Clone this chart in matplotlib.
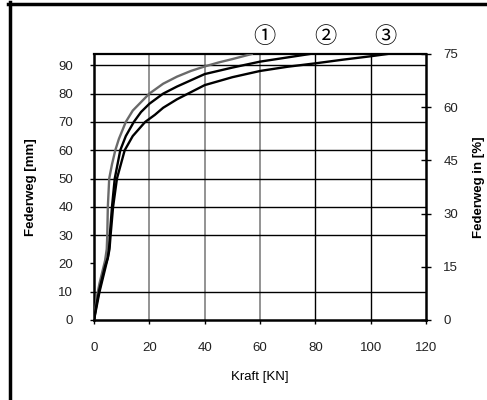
import matplotlib
matplotlib.use("Agg")
import matplotlib.pyplot as plt
from matplotlib.lines import Line2D

# ---- data ----
kraft_1 = [0, 1, 2, 3, 4, 4.6, 4.8, 5.0, 5.5, 6.5, 7.7, 9, 11.5, 14, 17, 20, 25, 30, 35, 40, 45, 50, 57]
weg_1 = [0, 8, 13, 17, 21, 25, 30, 40, 50, 55, 60, 64, 70, 74, 77, 80, 83.5, 86, 88, 89.6, 91, 92.2, 94]

kraft_2 = [0, 1, 2, 3, 4, 5, 5.5, 5.8, 6.5, 7.5, 9.5, 11.5, 14.4, 17, 20, 25, 30, 40, 50, 60, 70, 78]
weg_2 = [0, 6, 11, 15, 19, 22, 26, 31, 40, 50, 60, 65, 70, 73.5, 76.4, 80, 82.5, 86.9, 89.2, 91.3, 92.8, 94]

kraft_3 = [0, 1, 2, 3, 4, 5, 5.6, 6.0, 6.9, 8.3, 11.1, 14, 18.5, 22, 25, 30, 40, 50, 60, 70, 80, 90, 100, 106]
weg_3 = [0, 5, 10, 14, 18, 22, 25, 30, 40, 50, 60, 65, 70, 72.5, 75, 78, 83, 85.8, 88, 89.5, 90.7, 92, 93.2, 94]

curve_labels = ["①", "②", "③"]
curve_label_x = [61.5, 83.5, 105.3]

x_ticks = [0, 20, 40, 60, 80, 100, 120]
y_ticks = [0, 10, 20, 30, 40, 50, 60, 70, 80, 90]
y2_ticks = [0, 15, 30, 45, 60, 75]
hgrid_levels = [10, 30, 40, 50, 60, 70, 80, 90]
vgrid_grey = [20, 40, 60]
vgrid_black = [80, 100]

y_max_mm = 94
y_max_pct = 75

plt.rcParams['font.family'] = ['Liberation Sans', 'DejaVu Sans']

fig = plt.figure(figsize=(4.87, 4.0), dpi=100)
ax = fig.add_axes([94 / 487, 80 / 400, (426 - 94) / 487, (320 - 54) / 400])

for v in vgrid_grey:
    ax.axvline(v, color='#808080', lw=1.2, zorder=1)
for v in vgrid_black:
    ax.axvline(v, color='black', lw=1.0, zorder=1)
for h in hgrid_levels:
    ax.axhline(h, color='black', lw=1.0, zorder=1)

ax.plot(kraft_1, weg_1, color='#6a6a6a', lw=1.7, zorder=3)
ax.plot(kraft_2, weg_2, color='black', lw=1.7, zorder=3)
ax.plot(kraft_3, weg_3, color='black', lw=1.7, zorder=3)

ax.set_xlim(0, 120)
ax.set_ylim(0, y_max_mm)
ax.set_xticks(x_ticks)
ax.set_yticks(y_ticks)
ax.tick_params(axis='x', direction='out', length=3, width=1, pad=13, labelsize=9.5, labelcolor='#222222')
ax.tick_params(axis='y', direction='out', length=3, width=1, pad=12, labelsize=9.5, labelcolor='#222222')
for s in ['left', 'bottom', 'right']:
    ax.spines[s].set_linewidth(1.8)
ax.spines['top'].set_linewidth(1.6)

ax.set_ylabel("Federweg [mm]", fontsize=9.5, fontweight='bold')
ax.set_xlabel("Kraft [KN]", fontsize=9.5)
ax.yaxis.set_label_coords(-0.172, 0.5)
ax.xaxis.set_label_coords(0.5, -0.19)

ax2 = ax.twinx()
ax2.set_ylim(0, y_max_pct)
ax2.set_yticks(y2_ticks)
ax2.tick_params(axis='y', direction='inout', length=7, width=1, pad=9, labelsize=9.5, labelcolor='#222222')
for s in ['left', 'bottom', 'right', 'top']:
    ax2.spines[s].set_visible(False)
ax2.set_ylabel("Federweg in [%]", fontsize=9.5, fontweight='bold', rotation=90)
ax2.yaxis.set_label_coords(1.142, 0.5)

for lab, xv in zip(curve_labels, curve_label_x):
    ax.text(xv, 100.3, lab, fontsize=16, ha='center', va='center', clip_on=False,
            family=['Noto Sans CJK JP', 'DejaVu Sans'], color='black')

# partial outer frame (top and left)
fig.add_artist(Line2D([8 / 487, 1.0], [1 - 3.5 / 400, 1 - 3.5 / 400], transform=fig.transFigure, color='black', lw=2.5))
fig.add_artist(Line2D([9.5 / 487, 9.5 / 487], [0, 1 - 2 / 400], transform=fig.transFigure, color='black', lw=2.5))

fig.savefig("out.png", dpi=100)
